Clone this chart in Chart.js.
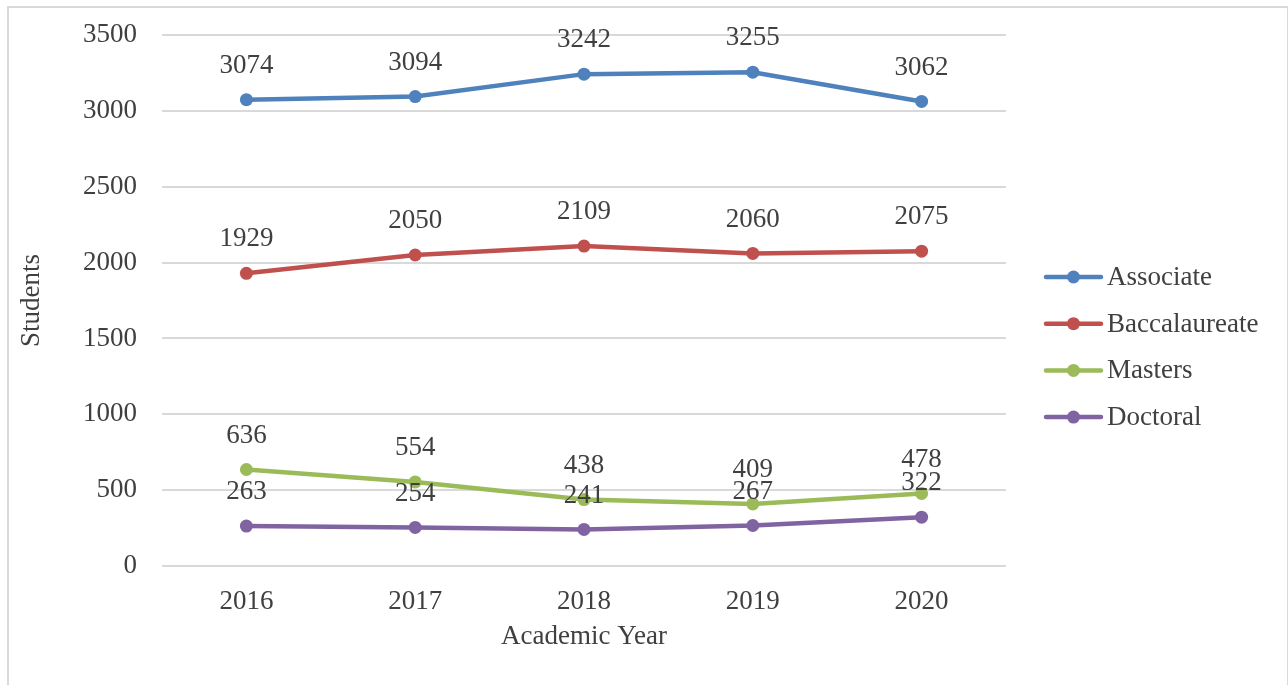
<!DOCTYPE html>
<html>
<head>
<meta charset="utf-8">
<script src="https://cdn.jsdelivr.net/npm/chart.js@4/dist/chart.umd.min.js"></script>
<style>
    html, body { margin: 0; padding: 0; background: #fff; }
    #frame {
        position: absolute;
        left: 7px;
        top: 6px;
        width: 1278px;
        height: 700px;
        border: 2px solid #d9d9d9;
        border-bottom: none;
    }
    #wrap { position: absolute; left: 0; top: 0; width: 1288px; height: 685px; }
</style>
</head>
<body>
<div id="frame"></div>
<div id="wrap"><canvas id="chart" width="1288" height="685"></canvas></div>
<script>
// Data
const years = ['2016', '2017', '2018', '2019', '2020'];
const associate = [3074, 3094, 3242, 3255, 3062];
const baccalaureate = [1929, 2050, 2109, 2060, 2075];
const masters = [636, 554, 438, 409, 478];
const doctoral = [263, 254, 241, 267, 322];
const seriesNames = ['Associate', 'Baccalaureate', 'Masters', 'Doctoral'];
const seriesColors = ['#4F81BD', '#C0504D', '#9BBB59', '#8064A2'];

const FONT = "'Liberation Serif', 'Times New Roman', serif";
const TEXT_COLOR = '#404040';
const FONT_SIZE = 27;

// Value labels above each point
const valueLabels = {
    id: 'valueLabels',
    afterDatasetsDraw(chart) {
        const ctx = chart.ctx;
        ctx.save();
        ctx.font = `${FONT_SIZE}px ${FONT}`;
        ctx.fillStyle = TEXT_COLOR;
        ctx.textAlign = 'center';
        ctx.textBaseline = 'middle';
        chart.data.datasets.forEach((ds, i) => {
            chart.getDatasetMeta(i).data.forEach((pt, j) => {
                ctx.fillText(String(ds.data[j]), pt.x, pt.y - 34);
            });
        });
        ctx.restore();
    }
};

// Legend with line + marker symbol, like the original
const lineLegend = {
    id: 'lineLegend',
    afterDraw(chart) {
        const ctx = chart.ctx;
        const x0 = chart.chartArea.right + 40;
        const y0 = 277;
        const step = 46.7;
        ctx.save();
        ctx.font = `${FONT_SIZE}px ${FONT}`;
        ctx.textBaseline = 'middle';
        chart.data.datasets.forEach((ds, i) => {
            const y = y0 + i * step;
            ctx.strokeStyle = ds.borderColor;
            ctx.lineWidth = 4.5;
            ctx.lineCap = 'round';
            ctx.beginPath();
            ctx.moveTo(x0, y);
            ctx.lineTo(x0 + 55, y);
            ctx.stroke();
            ctx.fillStyle = ds.borderColor;
            ctx.beginPath();
            ctx.arc(x0 + 27.5, y, 6.5, 0, Math.PI * 2);
            ctx.fill();
            ctx.fillStyle = TEXT_COLOR;
            ctx.fillText(ds.label, x0 + 61, y + 1);
        });
        ctx.restore();
    }
};

const seriesValues = [associate, baccalaureate, masters, doctoral];

new Chart(document.getElementById('chart'), {
    type: 'line',
    data: {
        labels: years,
        datasets: seriesNames.map((name, i) => ({
            label: name,
            data: seriesValues[i],
            borderColor: seriesColors[i],
            backgroundColor: seriesColors[i],
            borderWidth: 4.5,
            pointRadius: 6.5,
            pointBorderWidth: 0,
            pointHoverRadius: 6.5,
            tension: 0
        }))
    },
    options: {
        responsive: false,
        animation: false,
        layout: {
            padding: { left: 0, top: 35, right: 282, bottom: 0 }
        },
        plugins: {
            legend: { display: false },
            tooltip: { enabled: false }
        },
        scales: {
            x: {
                type: 'category',
                offset: true,
                grid: { display: false, drawTicks: false },
                border: { display: false },
                ticks: {
                    padding: 20,
                    color: TEXT_COLOR,
                    font: { family: FONT, size: FONT_SIZE }
                },
                title: {
                    display: true,
                    text: 'Academic Year',
                    color: TEXT_COLOR,
                    font: { family: FONT, size: FONT_SIZE },
                    padding: { top: 0, bottom: 32 }
                },
                afterFit: (scale) => { scale.height = 119; }
            },
            y: {
                min: 0,
                max: 3500,
                ticks: {
                    stepSize: 500,
                    padding: 25,
                    color: TEXT_COLOR,
                    font: { family: FONT, size: FONT_SIZE },
                    callback: (value) => String(value)
                },
                grid: { color: '#d9d9d9', lineWidth: 2, drawTicks: false },
                border: { display: false },
                title: {
                    display: true,
                    text: 'Students',
                    color: TEXT_COLOR,
                    font: { family: FONT, size: FONT_SIZE },
                    padding: { top: 16, bottom: 0 }
                },
                afterFit: (scale) => {
                    scale.width = 162;
                    scale.paddingTop = 0;
                    scale.paddingBottom = 0;
                }
            }
        }
    },
    plugins: [valueLabels, lineLegend]
});
</script>
</body>
</html>
